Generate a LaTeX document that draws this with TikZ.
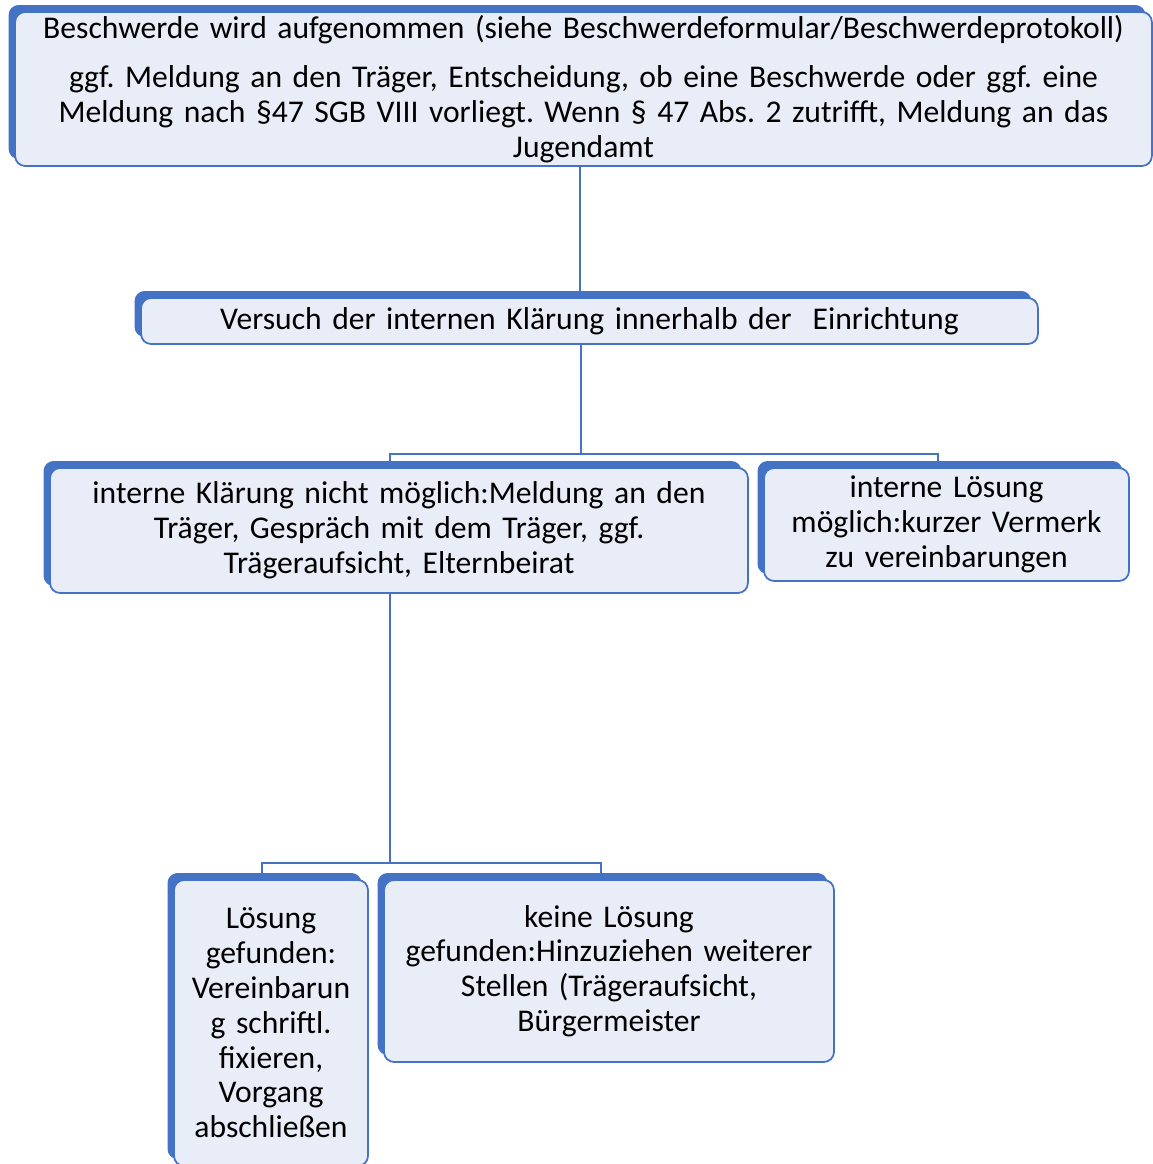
\documentclass[tikz,border=0pt]{standalone}
\usepackage{fontspec}
\setmainfont{Carlito}
\usetikzlibrary{shadows, backgrounds}

\definecolor{boxblue}{RGB}{68,114,196}
\definecolor{boxfill}{RGB}{233,237,247}

\begin{document}
\frenchspacing
\begin{tikzpicture}[
	x=0.02cm, y=-0.02cm,
	every node/.style={font=\fontsize{18}{19.8}\selectfont},
	box/.style={
		rectangle, draw=boxblue, line width=1pt, fill=boxfill,
		rounded corners=0.2cm, inner sep=0pt, align=center,
		general shadow={fill=boxblue, shadow xshift=-0.13cm, shadow yshift=0.14cm}
	},
	link/.style={draw=boxblue, line width=1.1pt}
	]
	\useasboundingbox (0,0) rectangle (1153,1164);

	% Nodes
	\node[box, minimum width=22.74cm, text width=22.74cm, minimum height=3.08cm] (complaint) at (583.5,89)
		{Beschwerde wird aufgenommen (siehe Beschwerdeformular/Beschwerdeprotokoll)\\[0.28cm]
		 ggf. Meldung an den Träger, Entscheidung, ob eine Beschwerde oder ggf. eine\\
		 Meldung nach §47 SGB VIII vorliegt. Wenn § 47 Abs. 2 zutrifft, Meldung an das\\
		 Jugendamt};
	\node[box, minimum width=17.94cm, text width=17.94cm, minimum height=0.92cm] (attempt) at (589.5,321)
		{Versuch der internen Klärung innerhalb der\ \ Einrichtung};
	\node[box, minimum width=13.96cm, text width=13.96cm, minimum height=2.5cm] (notpossible) at (399,530.5)
		{interne Klärung nicht möglich:Meldung an den\\ Träger, Gespräch mit dem Träger, ggf.\\ Trägeraufsicht, Elternbeirat};
	\node[box, minimum width=7.3cm, text width=7.3cm, minimum height=2.26cm] (possible) at (946.5,524.5)
		{interne Lösung\\ möglich:kurzer Vermerk\\ zu vereinbarungen};
	\node[box, minimum width=3.88cm, text width=3.88cm, minimum height=5.72cm] (found) at (271,1023)
		{Lösung\\ gefunden:\\ Vereinbarun\\ g schriftl.\\ fixieren,\\ Vorgang\\ abschließen};
	\node[box, minimum width=9cm, text width=9cm, minimum height=3.64cm] (notfound) at (609,971)
		{keine Lösung\\ gefunden:Hinzuziehen weiterer\\ Stellen (Trägeraufsicht,\\ Bürgermeister};

	% Connectors
	\begin{scope}[on background layer]
		\draw[link] ([xshift=-0.07cm]complaint.south) -- ([xshift=-0.07cm]complaint.south |- attempt.north);
		\draw[link] ([xshift=-0.17cm]attempt.south) -- ++(0,109) coordinate (split1);
		\draw[link] ([xshift=-0.18cm]notpossible.north) |- (split1) -| ([xshift=-0.17cm]possible.north);
		\draw[link] ([xshift=-0.18cm]notpossible.south) -- ++(0,269) coordinate (split2);
		\draw[link] ([xshift=-0.18cm]found.north) |- (split2) -| ([xshift=-0.16cm]notfound.north);
	\end{scope}

\end{tikzpicture}
\end{document}
